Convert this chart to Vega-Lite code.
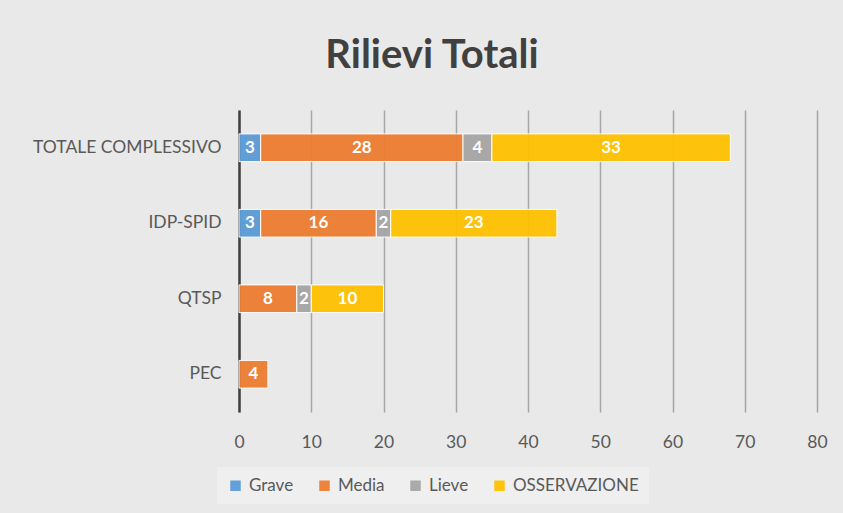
{
  "$schema": "https://vega.github.io/schema/vega-lite/v6.json",
  "width": 578,
  "height": 302,
  "autosize": "none",
  "padding": {"left": 239, "top": 110, "right": 26, "bottom": 101},
  "background": "#e9e9e9",
  "title": {
    "text": "Rilievi Totali",
    "fontSize": 40,
    "font": "Lato",
    "fontWeight": "bold",
    "color": "#404040",
    "anchor": "middle",
    "dx": -96,
    "offset": 34
  },
  "config": {
    "view": {"stroke": null},
    "font": "Lato"
  },
  "data": {
    "values": [
      {"cat": "TOTALE COMPLESSIVO", "type": "Grave", "ord": 1, "value": 3},
      {"cat": "TOTALE COMPLESSIVO", "type": "Media", "ord": 2, "value": 28},
      {"cat": "TOTALE COMPLESSIVO", "type": "Lieve", "ord": 3, "value": 4},
      {"cat": "TOTALE COMPLESSIVO", "type": "OSSERVAZIONE", "ord": 4, "value": 33},
      {"cat": "IDP-SPID", "type": "Grave", "ord": 1, "value": 3},
      {"cat": "IDP-SPID", "type": "Media", "ord": 2, "value": 16},
      {"cat": "IDP-SPID", "type": "Lieve", "ord": 3, "value": 2},
      {"cat": "IDP-SPID", "type": "OSSERVAZIONE", "ord": 4, "value": 23},
      {"cat": "QTSP", "type": "Media", "ord": 2, "value": 8},
      {"cat": "QTSP", "type": "Lieve", "ord": 3, "value": 2},
      {"cat": "QTSP", "type": "OSSERVAZIONE", "ord": 4, "value": 10},
      {"cat": "PEC", "type": "Media", "ord": 2, "value": 4}
    ]
  },
  "transform": [
    {"stack": "value", "groupby": ["cat"], "sort": [{"field": "ord", "order": "ascending"}], "as": ["x0", "x1"]},
    {"calculate": "(datum.x0 + datum.x1) / 2", "as": "mid"}
  ],
  "encoding": {
    "y": {
      "field": "cat",
      "type": "nominal",
      "sort": ["TOTALE COMPLESSIVO", "IDP-SPID", "QTSP", "PEC"],
      "scale": {"paddingInner": 0.633, "paddingOuter": 0.3165},
      "axis": {
        "title": null,
        "domain": true,
        "domainColor": "#404040",
        "domainWidth": 2.5,
        "ticks": false,
        "grid": false,
        "labelPadding": 18,
        "labelFontSize": 17.5,
        "labelLimit": 400,
        "labelColor": "#595959",
        "labelFont": "Lato"
      }
    }
  },
  "layer": [
    {
      "mark": {"type": "bar", "stroke": "#ffffff", "strokeWidth": 1, "opacity": 0.95},
      "encoding": {
        "x": {
          "field": "x0",
          "type": "quantitative",
          "scale": {"domain": [0, 80], "nice": false},
          "axis": {
            "title": null,
            "values": [0, 10, 20, 30, 40, 50, 60, 70, 80],
            "grid": true,
            "gridColor": "#a6a6a6",
            "gridWidth": 1.5,
            "domain": false,
            "ticks": false,
            "labelFlush": false,
            "labelPadding": 21,
            "labelFontSize": 17.5,
            "labelColor": "#595959",
            "labelFont": "Lato"
          }
        },
        "x2": {"field": "x1"},
        "color": {
          "field": "type",
          "type": "nominal",
          "scale": {
            "domain": ["Grave", "Media", "Lieve", "OSSERVAZIONE"],
            "range": ["#5b9bd5", "#ed7d31", "#a5a5a5", "#ffc000"]
          },
          "legend": {
            "title": null,
            "orient": "none",
            "direction": "horizontal",
            "legendX": -22,
            "legendY": 357,
            "fillColor": "#efefef",
            "padding": 10,
            "columnPadding": 22,
            "symbolType": "square",
            "symbolSize": 110,
            "symbolStrokeWidth": 0,
            "labelFontSize": 17,
            "labelColor": "#595959",
            "labelFont": "Lato",
            "labelOffset": 5
          }
        }
      }
    },
    {
      "mark": {"type": "text", "color": "#ffffff", "fontWeight": "bold", "fontSize": 17, "font": "Lato", "baseline": "middle", "align": "center"},
      "encoding": {
        "x": {"field": "mid", "type": "quantitative"},
        "text": {"field": "value", "type": "quantitative"}
      }
    }
  ]
}
